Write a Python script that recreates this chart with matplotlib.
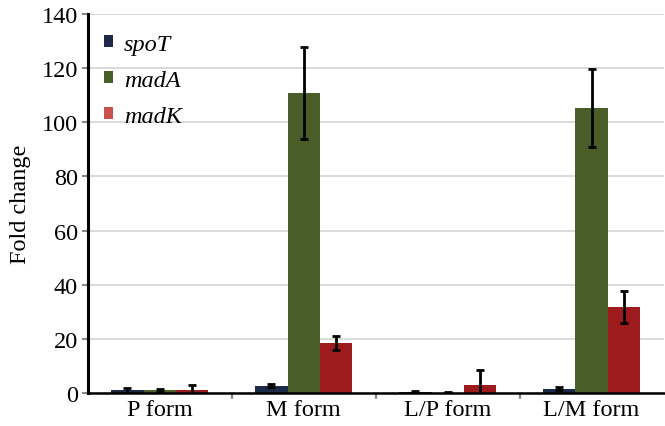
import numpy as np
import matplotlib.pyplot as plt
from matplotlib.patches import Patch

plt.rcParams['font.family'] = ['Liberation Serif', 'DejaVu Serif']

forms = ['P form', 'M form', 'L/P form', 'L/M form']
genes = ['spoT', 'madA', 'madK']
spoT = [1.1, 2.7, 0.4, 1.7]
madA = [1.0, 110.8, 0.2, 105.3]
madK = [1.1, 18.5, 3.0, 31.8]
spoT_err = [0.9, 0.6, 0.3, 0.4]
madA_err = [0.6, 17.0, 0.1, 14.5]
madK_err = [1.9, 2.6, 5.7, 6.0]

bar_colors = ['#1c2a47', '#4a5e29', '#9e1b1d']
legend_colors = ['#1c2a47', '#4a5e29', '#c9504c']

fig = plt.figure(figsize=(6.65, 4.27), dpi=100)
ax = fig.add_axes([0.132, 0.077, 0.866, 0.888])

x = np.arange(len(forms))
w = 0.225
series = [spoT, madA, madK]
errs = [spoT_err, madA_err, madK_err]
for i, (vals, err) in enumerate(zip(series, errs)):
    ax.bar(x + (i - 1) * w, vals, w, color=bar_colors[i], zorder=2,
           yerr=err, capsize=3,
           error_kw=dict(ecolor='black', elinewidth=2, capthick=2, zorder=3))

ax.set_xlim(-0.5, 3.5)
ax.set_ylim(0, 140)
ax.set_yticks(np.arange(0, 141, 20))
ax.yaxis.grid(True, color='#d4d4d4', linewidth=1.2, zorder=0)
ax.set_axisbelow(True)

ax.set_xticks(x)
ax.set_xticklabels(forms, fontsize=17.5)
ax.tick_params(axis='x', length=0, pad=4)
ax.set_xticks(np.arange(0.5, 3.5, 1), minor=True)
ax.tick_params(axis='x', which='minor', length=4, color='#888888', width=1.5)
ax.tick_params(axis='y', labelsize=17.5, length=4, color='#888888', width=1.5,
               pad=3)

ax.set_ylabel('Fold change', fontsize=17.5, labelpad=8)

ax.spines['top'].set_visible(False)
ax.spines['right'].set_visible(False)
ax.spines['left'].set_linewidth(2.2)
ax.spines['bottom'].set_linewidth(1.8)

handles = [Patch(facecolor=c) for c in legend_colors]
ax.legend(handles, genes, loc='upper left', bbox_to_anchor=(-0.01, 1.005),
          frameon=False, prop=dict(style='italic', size=17.5),
          handlelength=0.38, handleheight=0.38, handletextpad=0.45,
          labelspacing=0.62, borderaxespad=0.5)

fig.savefig('out.png', dpi=100)
